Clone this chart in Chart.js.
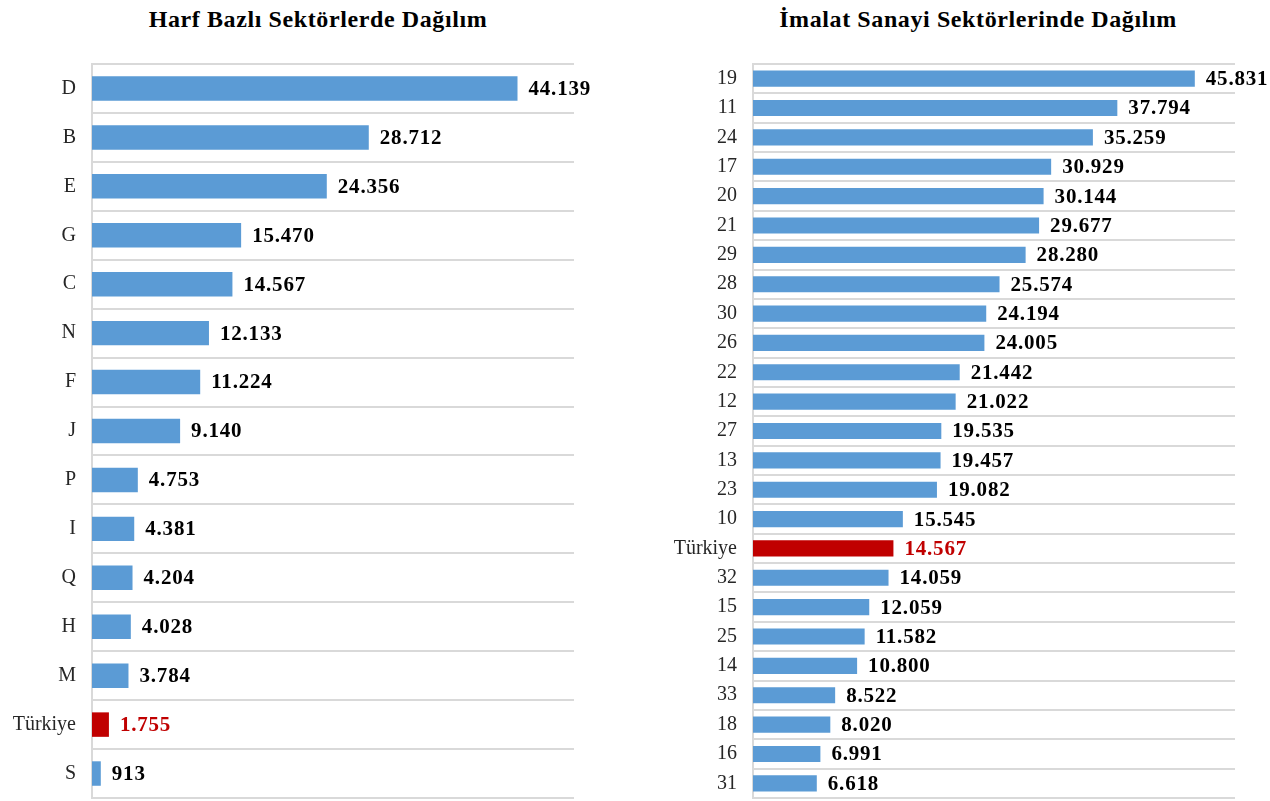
<!DOCTYPE html>
<html>
<head>
<meta charset="utf-8">
<script src="https://cdn.jsdelivr.net/npm/chart.js@4/dist/chart.umd.min.js"></script>
<style>
  html, body { margin: 0; padding: 0; background: #fff; }
  body { width: 1270px; height: 801px; position: relative; overflow: hidden; }
  canvas { position: absolute; top: 0; }
  .title {
    position: absolute; top: 6px; white-space: nowrap; letter-spacing: 0.6px;
    font: bold 24px "Liberation Serif", "DejaVu Serif", serif;
    color: #000; transform: translateX(-50%);
  }
</style>
</head>
<body>
<div class="title" style="left:318px">Harf Bazlı Sektörlerde Dağılım</div>
<div class="title" style="left:978px">İmalat Sanayi Sektörlerinde Dağılım</div>
<canvas id="left-chart" width="640" height="801" style="left:0"></canvas>
<canvas id="right-chart" width="630" height="801" style="left:640px"></canvas>

<script>
/* ── Data ── */
const LETTER_LABELS = ['D', 'B', 'E', 'G', 'C', 'N', 'F', 'J', 'P', 'I', 'Q', 'H', 'M', 'Türkiye', 'S'];
const LETTER_VALUES = [44139, 28712, 24356, 15470, 14567, 12133, 11224, 9140, 4753, 4381, 4204, 4028, 3784, 1755, 913];

const MFG_LABELS = ['19', '11', '24', '17', '20', '21', '29', '28', '30', '26', '22', '12', '27',
                    '13', '23', '10', 'Türkiye', '32', '15', '25', '14', '33', '18', '16', '31'];
const MFG_VALUES = [45831, 37794, 35259, 30929, 30144, 29677, 28280, 25574, 24194, 24005, 21442, 21022, 19535,
                    19457, 19082, 15545, 14567, 14059, 12059, 11582, 10800, 8522, 8020, 6991, 6618];

const X_MAX = 50000;

/* ── Style ── */
const BLUE  = '#5b9bd5';
const RED   = '#c00000';
const GRID  = '#d9d9d9';
const SERIF = '"Liberation Serif", "DejaVu Serif", serif';

function fmt(n) {
  return String(n).replace(/\B(?=(\d{3})+(?!\d))/g, '.');
}

function isTR(label) { return label === 'Türkiye'; }

/* ── Value labels at bar ends ── */
const valueLabels = {
  id: 'valueLabels',
  afterDatasetsDraw(chart) {
    const { ctx, data } = chart;
    chart.getDatasetMeta(0).data.forEach((bar, i) => {
      const lbl = data.labels[i];
      ctx.save();
      ctx.font          = 'bold 21px ' + SERIF;
      ctx.letterSpacing = '0.8px';
      ctx.fillStyle     = isTR(lbl) ? RED : '#000';
      ctx.textAlign     = 'left';
      ctx.textBaseline  = 'middle';
      ctx.fillText(fmt(data.datasets[0].data[i]), bar.x + 11, bar.y + 1);
      ctx.restore();
    });
  },
};

function makeChart(id, labels, values, axisWidth, padRight, barPct) {
  return new Chart(document.getElementById(id), {
    type: 'bar',
    plugins: [valueLabels],
    data: {
      labels: labels,
      datasets: [{
        data:               values,
        backgroundColor:    labels.map(l => isTR(l) ? RED : BLUE),
        borderWidth:        0,
        barPercentage:      barPct,
        categoryPercentage: 1,
      }],
    },
    options: {
      indexAxis:  'y',
      responsive: false,
      animation:  false,
      layout: { padding: { top: 64, bottom: 3, left: 0, right: padRight } },
      plugins: {
        legend:  { display: false },
        tooltip: { enabled: false },
        title:   { display: false },
      },
      scales: {
        x: { display: false, min: 0, max: X_MAX },
        y: {
          afterFit: s => {
            s.width = axisWidth;
            s.paddingTop = 0;
            s.paddingBottom = 0;
          },
          border: { color: GRID, width: 2 },
          grid:   { color: GRID, lineWidth: 2, offset: true, drawTicks: false },
          ticks:  { color: '#262626', padding: 16, font: { family: SERIF, size: 20 } },
        },
      },
    },
  });
}

makeChart('left-chart',  LETTER_LABELS, LETTER_VALUES, 92, 66, 0.5);
makeChart('right-chart', MFG_LABELS,    MFG_VALUES,    113, 35, 0.55);
</script>
</body>
</html>
